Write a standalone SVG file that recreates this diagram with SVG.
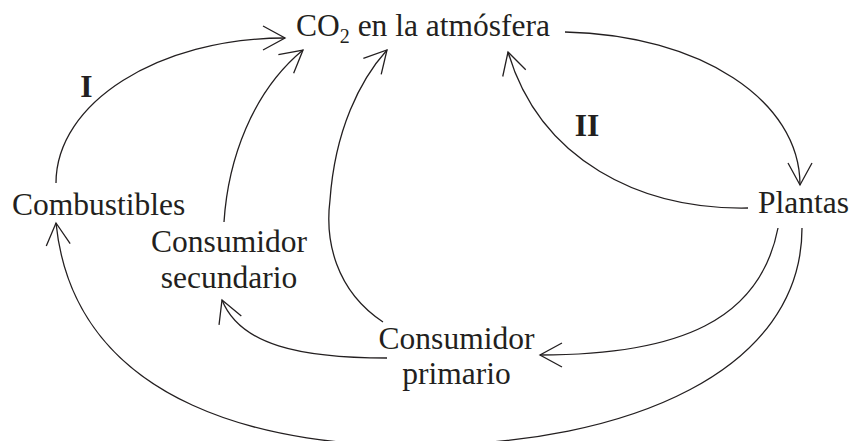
<svg xmlns="http://www.w3.org/2000/svg" width="851" height="441" viewBox="0 0 851 441">
<style>
.t{font-family:"Liberation Serif","Times New Roman",serif;font-size:31.5px;fill:#231f20}
.b{font-family:"Liberation Serif","Times New Roman",serif;font-size:31.5px;font-weight:bold;fill:#231f20}
.c{fill:none;stroke:#231f20;stroke-width:1.3;marker-end:url(#ah)}
</style>
<defs>
<marker id="ah" markerUnits="userSpaceOnUse" markerWidth="40" markerHeight="40" viewBox="-30 -20 40 40" refX="0" refY="0" orient="auto">
<path d="M-22,-12 L0,0 L-22,12" fill="none" stroke="#231f20" stroke-width="1.3"/>
</marker>
</defs>
<g id="connectors">
<path class="c" d="M56,183 C56,103 158,38 285,38"/>
<path class="c" d="M224,222 C228,160 252,92 303,50"/>
<path class="c" d="M383,322 C335,290 325,240 330,200 C335,130 360,80 387,50"/>
<path class="c" d="M387,358 C300,358 240,345 222,300"/>
<path class="c" d="M778,228 C760,320 680,355 540,355"/>
<path class="c" d="M802,228 C802,370 630,445 420,445 C280,448 75,410 56,223"/>
<path class="c" d="M565,32 C700,35 800,100 800,185"/>
<path class="c" d="M748,208 C640,210 540,160 508,52"/>
</g>
<g id="co2"><text class="t" x="296" y="36">CO<tspan font-size="20" dy="7">2</tspan><tspan dy="-7"> en la atmósfera</tspan></text></g>
<g id="combustibles"><text class="t" x="12" y="215">Combustibles</text></g>
<g id="plantas"><text class="t" x="758" y="213">Plantas</text></g>
<g id="secundario"><text class="t" text-anchor="middle" x="229" y="252">Consumidor</text><text class="t" text-anchor="middle" x="229" y="288">secundario</text></g>
<g id="primario"><text class="t" text-anchor="middle" x="456.5" y="349">Consumidor</text><text class="t" text-anchor="middle" x="456.5" y="384">primario</text></g>
<g id="labels"><text class="b" text-anchor="middle" x="86.5" y="97">I</text><text class="b" text-anchor="middle" x="587" y="136">II</text></g>
</svg>
